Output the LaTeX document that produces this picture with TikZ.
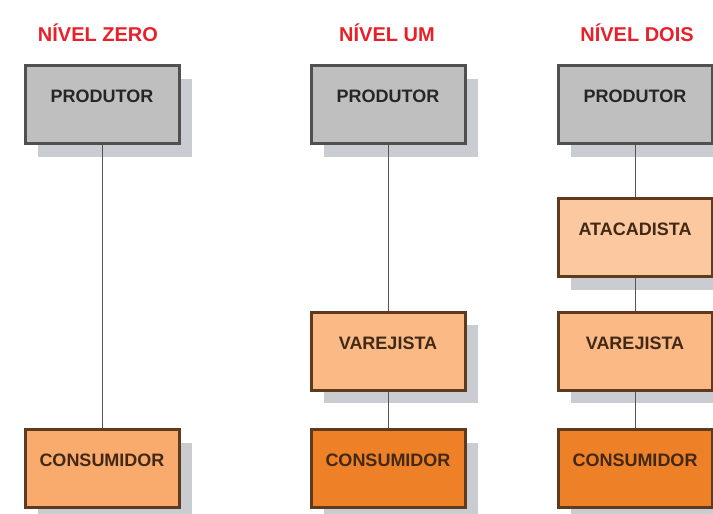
\documentclass[tikz,border=0pt]{standalone}
\usepackage{fontspec}
\setmainfont{Liberation Sans}
\usetikzlibrary{shadows}
\definecolor{titlered}{HTML}{E8202A}
\definecolor{prodgray}{HTML}{BFBFBF}
\definecolor{prodedge}{HTML}{505050}
\definecolor{orangeedge}{HTML}{5E3A1E}
\definecolor{consfill}{HTML}{F9AB6E}
\definecolor{varfill}{HTML}{FAB985}
\definecolor{atacfill}{HTML}{FBC8A0}
\definecolor{consdark}{HTML}{EE8128}
\definecolor{shadowgray}{HTML}{C9CCD0}
\definecolor{linegray}{HTML}{555555}

\begin{document}
\begin{tikzpicture}[x=1pt,y=1pt,
          title/.style={text=titlered, font=\fontsize{20}{20}\selectfont\bfseries},
          box/.style={rectangle, line width=3pt, minimum width=154pt,
            minimum height=78pt, inner ysep=24pt, text height=13pt, text depth=17pt,
            font=\fontsize{18}{18}\selectfont\bfseries,
            drop shadow={shadow xshift=13pt, shadow yshift=-13pt, fill=shadowgray, opacity=1}},
          graybox/.style={box, draw=prodedge, fill=prodgray, text=black!85},
          lightbox/.style={box, draw=orangeedge, fill=#1, text=orangeedge!70!black},
          darkbox/.style={box, draw=orangeedge, fill=consdark, text=orangeedge!70!black},
          link/.style={draw=linegray, line width=1pt}]

        \useasboundingbox (0,0) rectangle (713,514);

        \node[title] (t0) at (98,481)  {NÍVEL ZERO};
        \node[title] (t1) at (387,481) {NÍVEL UM};
        \node[title] (t2) at (637,481) {NÍVEL DOIS};

        \node[graybox]           (prod0) at (102,409) {PRODUTOR};
        \node[lightbox=consfill] (cons0) at (102,45)  {CONSUMIDOR};

        \draw[link] (prod0) -- (cons0);

        \node[graybox]          (prod1) at (388,409)   {PRODUTOR};
        \node[lightbox=varfill] (var1)  at (388,162.5) {VAREJISTA};
        \node[darkbox]          (cons1) at (388,45)    {CONSUMIDOR};

        \draw[link] (prod1) -- (var1);
        \draw[link] (var1)  -- (cons1);

        \node[graybox]           (prod2) at (635,409)   {PRODUTOR};
        \node[lightbox=atacfill] (atac2) at (635,276)   {ATACADISTA};
        \node[lightbox=varfill]  (var2)  at (635,162.5) {VAREJISTA};
        \node[darkbox]           (cons2) at (635,45)    {CONSUMIDOR};

        \draw[link] (prod2) -- (atac2);
        \draw[link] (atac2) -- (var2);
        \draw[link] (var2)  -- (cons2);

      \end{tikzpicture}
\end{document}
